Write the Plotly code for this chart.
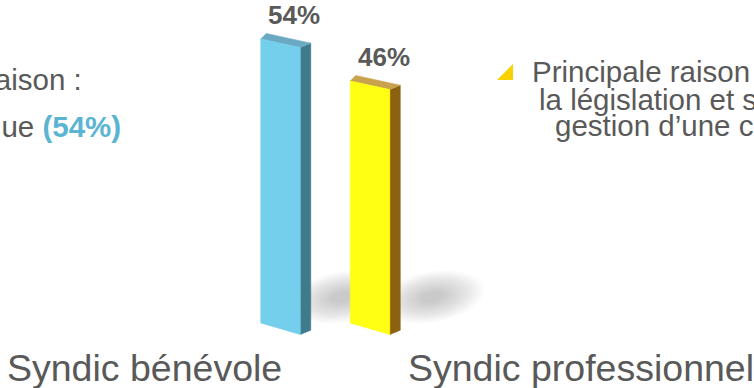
import numpy as np
import plotly.graph_objects as go

# ---------------- data ----------------
categories = ["Syndic bénévole", "Syndic professionnel"]
values = [54, 46]
value_labels = ["54%", "46%"]
left_lines = ["raison :", "que <b><span style='color:#5AB4D2'>(54%)</span></b>"]
right_lines = ["Principale raison", "la législation et s", "gestion d’une c"]

# ---------------- style ----------------
front_colors = ["#74CFEC", "#FFFF14"]
side_colors = ["#3F7B8C", "#8C6210"]
top_colors = ["#6AA9C2", "#C9A24E"]
TEXT = "#595959"
FONT = "Liberation Sans, Arial, sans-serif"

W, H = 754, 388
PX_X = 89.5     # px per category step
PX_Y = 5.26     # px per percentage point
X0_PX = 280.5   # pixel x of category 0
Y0_PX = 323.0   # pixel y of value 0

x_range = [-X0_PX / PX_X, (W - X0_PX) / PX_X]
y_range = [(Y0_PX - H) / PX_Y, Y0_PX / PX_Y]


def ux(px):
    return px / PX_X


def uy(px):
    return px / PX_Y


HW = 19.75          # half front width (px)
DROP_TOP, DROP_BOT = 8.5, 11.5
BACK_L = (5.5, 5.5)
BACK_R = (10.5, 4.3)

fig = go.Figure()

# ---------------- soft shadows ----------------
t = np.linspace(0, 2 * np.pi, 72)
SH_DX, SH_DY, SH_A, SH_B, SH_ROT = 62, 26, 52, 25, np.deg2rad(10)
n_layers = 12
for i, v in enumerate(values):
    for k in range(n_layers):
        s = 1.0 - k * 0.07
        ex = SH_A * s * np.cos(t)
        ey = SH_B * s * np.sin(t)
        px = ex * np.cos(SH_ROT) - ey * np.sin(SH_ROT)
        py = ex * np.sin(SH_ROT) + ey * np.cos(SH_ROT)
        fig.add_trace(go.Scatter(
            x=i + ux(SH_DX + px), y=uy(SH_DY + py),
            mode="lines", fill="toself", fillcolor="rgba(140,140,140,0.038)",
            line=dict(width=0), hoverinfo="skip", showlegend=False))

# ---------------- 3D bars ----------------
for i, v in enumerate(values):
    L = i - ux(HW)
    R = i + ux(HW)
    lb = (L, 0.0)
    lt = (L, v)
    rb = (R, -uy(DROP_BOT))
    rt = (R, v - uy(DROP_TOP))
    lbt = (L + ux(BACK_L[0]), v + uy(BACK_L[1]))
    rbt = (R + ux(BACK_R[0]), rt[1] + uy(BACK_R[1]))
    rbb = (R + ux(BACK_R[0]), rb[1] + uy(BACK_R[1]))
    faces = [
        ([rt, rbt, rbb, rb], side_colors[i]),
        ([lt, rt, rbt, lbt], top_colors[i]),
        ([lb, rb, rt, lt], front_colors[i]),
    ]
    for pts, col in faces:
        xs = [p[0] for p in pts] + [pts[0][0]]
        ys = [p[1] for p in pts] + [pts[0][1]]
        fig.add_trace(go.Scatter(
            x=xs, y=ys, mode="lines", fill="toself", fillcolor=col,
            line=dict(color=col, width=0.6), hoverinfo="skip", showlegend=False))

    fig.add_annotation(
        x=i + ux(13.5), y=v + uy(24.0), text="<b>%s</b>" % value_labels[i],
        showarrow=False, xanchor="center", yanchor="middle",
        font=dict(family=FONT, size=26, color=TEXT))

# ---------------- category labels ----------------
cat_x_px = [144, 581]
for name, cx in zip(categories, cat_x_px):
    fig.add_annotation(
        xref="paper", yref="paper", x=cx / W, y=1 - 368 / H, text=name,
        showarrow=False, xanchor="center", yanchor="middle",
        font=dict(family=FONT, size=37.5, color=TEXT))

# ---------------- side texts ----------------
left_pos = [(84, 80), (123, 127)]
for txt, (px, py) in zip(left_lines, left_pos):
    fig.add_annotation(
        xref="paper", yref="paper", x=px / W, y=1 - py / H, text=txt,
        showarrow=False, xanchor="right", yanchor="middle",
        font=dict(family=FONT, size=29.5, color=TEXT))

right_pos = [(530, 71), (537, 99), (553, 126)]
for txt, (px, py) in zip(right_lines, right_pos):
    fig.add_annotation(
        xref="paper", yref="paper", x=px / W, y=1 - py / H, text=txt,
        showarrow=False, xanchor="left", yanchor="middle",
        font=dict(family=FONT, size=29.5, color=TEXT))

# bullet triangle
tri = [(497, 80), (513, 80), (513, 64)]
path = "M " + " L ".join("%.5f,%.5f" % (x / W, 1 - y / H) for x, y in tri) + " Z"
fig.add_shape(type="path", xref="paper", yref="paper", path=path,
              fillcolor="#F8D200", line=dict(width=0))

fig.update_layout(
    width=W, height=H, margin=dict(l=0, r=0, t=0, b=0),
    paper_bgcolor="white", plot_bgcolor="white", showlegend=False,
    xaxis=dict(range=x_range, visible=False, fixedrange=True),
    yaxis=dict(range=y_range, visible=False, fixedrange=True),
)

fig.write_html(
    "out.html",
    config={"displayModeBar": False},
    post_script="document.body.style.margin='0';document.body.style.padding='0';"
                "document.body.style.overflow='hidden';",
)
